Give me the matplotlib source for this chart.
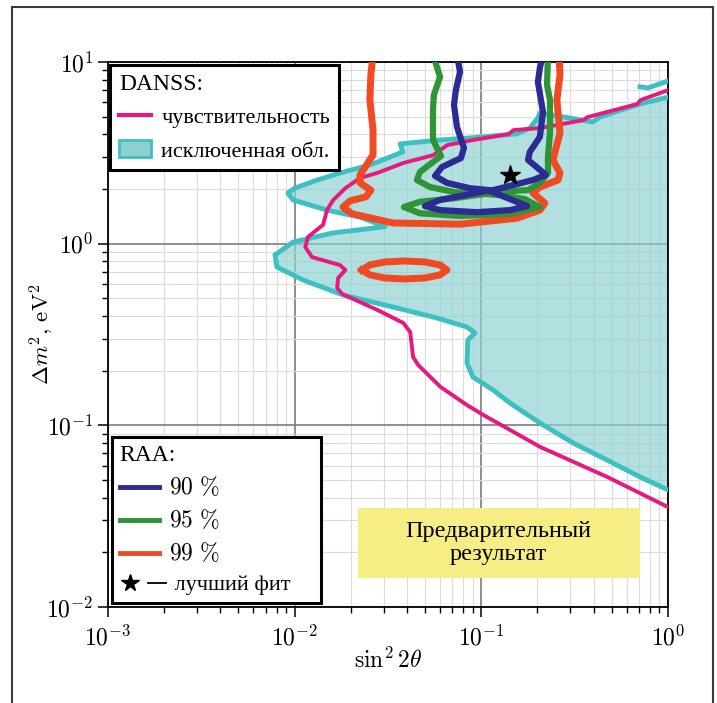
import math
import matplotlib
matplotlib.use("Agg")
import matplotlib.pyplot as plt
from matplotlib.lines import Line2D
from matplotlib.patches import Patch, Rectangle
from matplotlib.legend_handler import HandlerBase
from matplotlib.ticker import FuncFormatter, LogLocator

plt.rcParams["mathtext.fontset"] = "cm"
plt.rcParams["font.family"] = ["Liberation Serif", "DejaVu Serif"]

# DANSS sensitivity curve (sin^2 2theta, dm^2 [eV^2])
sens_x = [1.0, 0.713, 0.685, 0.370, 0.352, 0.255, 0.207, 0.149, 0.140, 0.0906,
          0.0658, 0.0553, 0.0382, 0.0277, 0.0224, 0.0187, 0.0161, 0.0149, 0.0142,
          0.0118, 0.0114, 0.0124, 0.0175, 0.0187, 0.0171, 0.0169, 0.0180, 0.0277,
          0.0382, 0.0416, 0.0431, 0.0459, 0.0603, 0.0841, 0.1026, 0.207, 0.474, 1.0]
sens_y = [7.0, 6.17, 5.87, 4.97, 4.79, 4.50, 4.33, 4.22, 4.01, 3.72,
          3.49, 3.07, 2.78, 2.45, 2.30, 2.02, 1.74, 1.53, 1.27,
          1.09, 0.957, 0.843, 0.762, 0.716, 0.647, 0.570, 0.528, 0.432,
          0.366, 0.326, 0.238, 0.215, 0.163, 0.129, 0.114, 0.0760, 0.0519, 0.0355]

# DANSS excluded region boundary
excl_x = [1.0, 0.708, 0.432, 0.396, 0.206, 0.201, 0.182, 0.155, 0.0869, 0.0601,
          0.0367, 0.0380, 0.0253, 0.0175, 0.0132, 0.0100, 0.0092, 0.0098, 0.0149,
          0.0224, 0.0305, 0.0160, 0.0098, 0.00785, 0.00804, 0.0111, 0.01815, 0.0336,
          0.0551, 0.0838, 0.0925, 0.0847, 0.0838, 0.0902, 0.1155, 0.1425, 0.206,
          0.310, 0.471, 0.708, 1.0]
excl_y = [6.4, 5.87, 4.98, 4.68, 5.24, 4.92, 4.33, 4.02, 3.82, 3.72,
          3.54, 3.20, 2.71, 2.45, 2.24, 2.02, 1.90, 1.74, 1.53,
          1.40, 1.24, 1.145, 1.02, 0.866, 0.744, 0.631, 0.522, 0.448,
          0.395, 0.348, 0.322, 0.295, 0.220, 0.1845, 0.1565, 0.1327, 0.1030,
          0.0800, 0.0645, 0.0520, 0.0441]
excl_tip_x = [0.708, 0.781, 1.0]
excl_tip_y = [7.3, 7.2, 7.86]

# RAA allowed contours
raa90_x = [0.0741, 0.0769, 0.0731, 0.0714, 0.0741, 0.0807, 0.0778, 0.0615, 0.0565,
           0.0655, 0.0869, 0.111, 0.0818, 0.0601, 0.0499, 0.0601, 0.0948, 0.1425,
           0.176, 0.1425, 0.111, 0.1425, 0.189, 0.222, 0.206, 0.178, 0.182, 0.206,
           0.214, 0.201, 0.206, 0.214]
raa90_y = [11, 8.81, 7.01, 5.80, 4.39, 3.36, 2.96, 2.64, 2.36,
           2.16, 2.02, 1.97, 1.85, 1.74, 1.61, 1.53, 1.49, 1.53,
           1.61, 1.76, 1.95, 2.08, 2.24, 2.39, 2.55, 2.89, 3.20, 3.87,
           5.31, 7.76, 9.27, 11]

raa95_x = [0.0551, 0.0601, 0.0557, 0.0551, 0.0551, 0.0608, 0.0469, 0.0452, 0.0531,
           0.0723, 0.1047, 0.0723, 0.0469, 0.0385, 0.0469, 0.0769, 0.1425, 0.206,
           0.171, 0.126, 0.1047, 0.1425, 0.178, 0.206, 0.2276, 0.2276, 0.2333,
           0.2333, 0.225, 0.2276]
raa95_y = [11, 8.27, 6.58, 5.44, 3.72, 3.04, 2.48, 2.24, 2.05,
           1.92, 1.88, 1.78, 1.70, 1.59, 1.47, 1.42, 1.46, 1.59,
           1.76, 1.85, 1.88, 1.95, 1.97, 2.16, 2.45, 3.00, 4.07,
           6.18, 7.47, 11]

raa99_x = [0.0263, 0.0256, 0.0253, 0.0263, 0.0263, 0.0224, 0.0224, 0.0256, 0.0241,
           0.0198, 0.01815, 0.0203, 0.0336, 0.0769, 0.155, 0.206, 0.219, 0.189,
           0.206, 0.2575, 0.264, 0.242, 0.264, 0.254, 0.264, 0.261]
raa99_y = [11, 8.48, 6.18, 4.22, 3.08, 2.39, 2.16, 1.97, 1.81,
           1.72, 1.59, 1.46, 1.30, 1.28, 1.38, 1.53, 1.67, 1.90,
           2.05, 2.24, 2.45, 2.89, 4.07, 6.18, 8.48, 11]

raa99_island_x = [0.0229, 0.0253, 0.0305, 0.0385, 0.0499, 0.0601, 0.0655,
                  0.0601, 0.0499, 0.0385, 0.0305, 0.0253, 0.0229]
raa99_island_y = [0.716, 0.764, 0.793, 0.803, 0.793, 0.764, 0.716,
                  0.673, 0.647, 0.639, 0.647, 0.673, 0.716]

best_fit = (0.143, 2.39)

PINK = "#e6197f"
CYAN = "#3ec0c2"
FILL = "#8ed0d0"
BLUE = "#2c2b94"
GREEN = "#2f9435"
RED = "#f04a22"


class StarDashHandler(HandlerBase):
    """Legend key: a star followed by a short dash."""

    def create_artists(self, legend, orig_handle, xdescent, ydescent,
                       width, height, fontsize, trans):
        y = height / 2 - ydescent
        star = Line2D([0.26 * width - xdescent], [y], marker="*", ms=13,
                      color="black", ls="none", transform=trans)
        dash = Line2D([0.72 * width - xdescent, 1.2 * width - xdescent], [y, y],
                      color="black", lw=1.3, transform=trans)
        return [star, dash]


fig = plt.figure(figsize=(7.17, 7.03), dpi=100)
ax = fig.add_axes([0.1506, 0.1366, 0.7810, 0.7752])
ax.set_xscale("log")
ax.set_yscale("log")
ax.set_xlim(1e-3, 1)
ax.set_ylim(1e-2, 10)

ax.set_axisbelow(True)
ax.grid(which="major", color="#7c7c7c", lw=1.2)
ax.grid(which="minor", color="#dedada", lw=0.8)

# excluded region
ax.fill(excl_x, excl_y, facecolor=FILL, alpha=0.68, edgecolor="none", zorder=2)
ax.plot(excl_x, excl_y, color=CYAN, lw=3.5, solid_joinstyle="round", zorder=3)
ax.plot(excl_tip_x, excl_tip_y, color=CYAN, lw=3.5, zorder=3)

# sensitivity
ax.plot(sens_x, sens_y, color=PINK, lw=2.8, zorder=4)

# RAA contours
ax.plot(raa99_x, raa99_y, color=RED, lw=5, solid_joinstyle="round", zorder=5)
ax.plot(raa99_island_x, raa99_island_y, color=RED, lw=5, zorder=5)
ax.plot(raa95_x, raa95_y, color=GREEN, lw=4.5, solid_joinstyle="round", zorder=6)
ax.plot(raa90_x, raa90_y, color=BLUE, lw=4.5, solid_joinstyle="round", zorder=7)
ax.plot(*best_fit, marker="*", ms=15, color="black", ls="none", zorder=8)

# ticks
fmt = FuncFormatter(lambda v, p: r"$10^{%d}$" % round(math.log10(v)))
ax.xaxis.set_major_formatter(fmt)
ax.yaxis.set_major_formatter(fmt)
ax.xaxis.set_major_locator(LogLocator(base=10, numticks=10))
ax.yaxis.set_major_locator(LogLocator(base=10, numticks=10))
ax.tick_params(which="both", direction="out", top=False, right=False, labelsize=17)
ax.tick_params(which="major", length=7, width=1.1)
ax.tick_params(which="minor", length=4.5, width=1.0)
ax.tick_params(axis="x", pad=6)
for s in ax.spines.values():
    s.set_linewidth(1.3)

ax.set_xlabel(r"$\sin^2 2\theta$", fontsize=17)
ax.set_ylabel(r"$\Delta m^2,\,\mathrm{eV}^2$", fontsize=16.5)
ax.xaxis.set_label_coords(0.5, -0.075)
ax.yaxis.set_label_coords(-0.093, 0.5)

# preliminary result box
ax.add_patch(Rectangle((0.446, 0.0532), 0.504, 0.1285, transform=ax.transAxes,
                       facecolor="#f6ee84", edgecolor="none", zorder=9))
ax.text(0.697, 0.117, "Предварительный\nрезультат", transform=ax.transAxes,
        ha="center", va="center", fontsize=17.5, linespacing=1.15, zorder=10)

# legends
h1 = [Line2D([], [], color=PINK, lw=3),
      Patch(facecolor=FILL, edgecolor=CYAN, lw=2)]
leg1 = ax.legend(h1, ["чувствительность", "исключенная обл."], title="DANSS:",
                 loc="upper left", bbox_to_anchor=(0.004, 0.995), borderaxespad=0,
                 fontsize=16, title_fontsize=17, alignment="left", fancybox=False,
                 edgecolor="black", framealpha=1, handlelength=1.45, handleheight=0.8,
                 handletextpad=0.45, labelspacing=0.55, borderpad=0.4)
leg1.get_frame().set_linewidth(2.2)
leg1.set_zorder(11)
ax.add_artist(leg1)

h2 = [Line2D([], [], color=BLUE, lw=3.5),
      Line2D([], [], color=GREEN, lw=3.5),
      Line2D([], [], color=RED, lw=3.5),
      Line2D([], [], color="black")]
labels2 = [r"$90\ \%$", r"$95\ \%$", r"$99\ \%$", " лучший фит"]
leg2 = ax.legend(h2, labels2, title="RAA:",
                 loc="lower left", bbox_to_anchor=(0.007, 0.007, 0.373, 0.3),
                 mode="expand", borderaxespad=0,
                 fontsize=16, title_fontsize=17, alignment="left", fancybox=False,
                 edgecolor="black", framealpha=1, handlelength=1.75,
                 handletextpad=0.45, labelspacing=0.42, borderpad=0.35,
                 handler_map={h2[3]: StarDashHandler()})
for t in leg2.get_texts()[:3]:
    t.set_fontsize(17)
leg2.get_frame().set_linewidth(2.2)
leg2.set_zorder(11)

# outer frame
fig.add_artist(Rectangle((12 / 717, -0.05), (713 - 12) / 717, 1 - 7 / 703 + 0.05,
                         transform=fig.transFigure, fill=False,
                         edgecolor="#3a3a3a", lw=1.5))

fig.savefig("out.png", dpi=100)
